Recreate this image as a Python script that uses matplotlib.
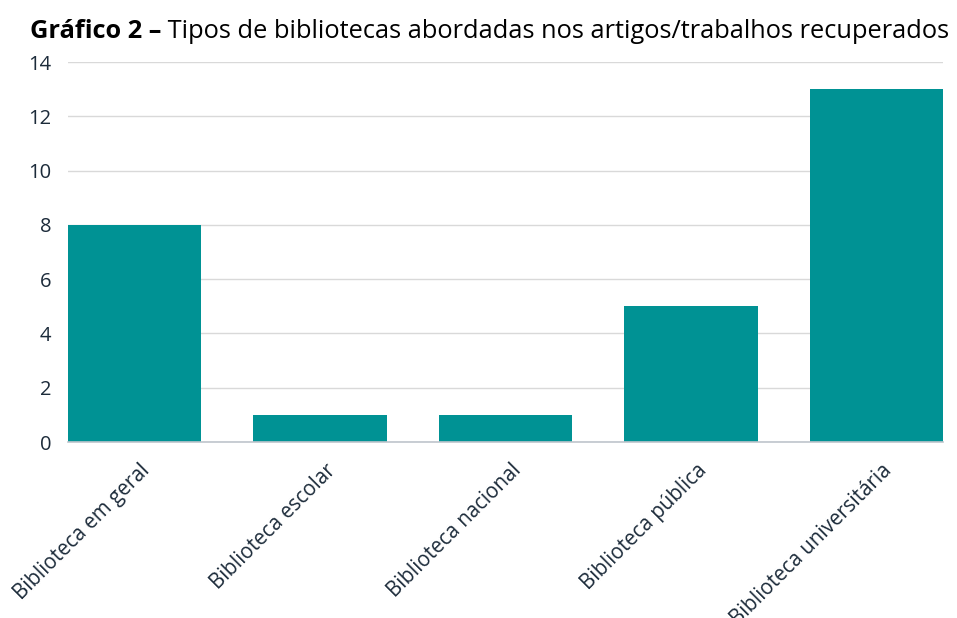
import matplotlib
matplotlib.use("Agg")
import matplotlib.pyplot as plt
import matplotlib.transforms as mtransforms

categories = ["Biblioteca em geral", "Biblioteca escolar", "Biblioteca nacional",
              "Biblioteca pública", "Biblioteca universitária"]
counts = [8, 1, 1, 5, 13]
yticks = [0, 2, 4, 6, 8, 10, 12, 14]

plt.rcParams['font.family'] = ['Open Sans', 'DejaVu Sans']

fig = plt.figure(figsize=(9.57, 6.18), dpi=100)
ax = fig.add_axes([68/957, 1-442/618, 875/957, 380/618])

x = range(len(categories))
ax.bar(x, counts, width=0.72, color="#009294", zorder=2)
ax.set_xlim(-0.36, len(categories) - 1 + 0.36)
ax.set_ylim(0, 14)
ax.set_yticks(yticks)
ax.yaxis.grid(True, color="#d9d9d9", linewidth=1, zorder=0)
for s in ["left", "right", "top"]:
    ax.spines[s].set_visible(False)
ax.spines["bottom"].set_color("#bfc5cc")
ax.spines["bottom"].set_linewidth(1.2)
ax.tick_params(axis="both", length=0, labelcolor="#1c2b3a")
ax.tick_params(axis="y", labelsize=14.5, pad=12)
ax.tick_params(axis="x", labelsize=14.8)

ax.set_xticks(list(x))
ax.set_xticklabels(categories, rotation=45, ha="right", va="top", rotation_mode="anchor")
shift = mtransforms.ScaledTranslation(5/100, -13/100, fig.dpi_scale_trans)
for lab in ax.get_xticklabels():
    lab.set_transform(lab.get_transform() + shift)

t1 = fig.text(30/957, 1-38/618, "Gráfico 2 –", fontsize=18.3, fontweight="bold",
              color="black", va="baseline", ha="left")
fig.canvas.draw()
ax.annotate(" Tipos de bibliotecas abordadas nos artigos/trabalhos recuperados",
            xy=(1, 0), xycoords=t1, va="bottom", ha="left", fontsize=18.3, color="black",
            annotation_clip=False)

fig.savefig("out.png", dpi=100)
